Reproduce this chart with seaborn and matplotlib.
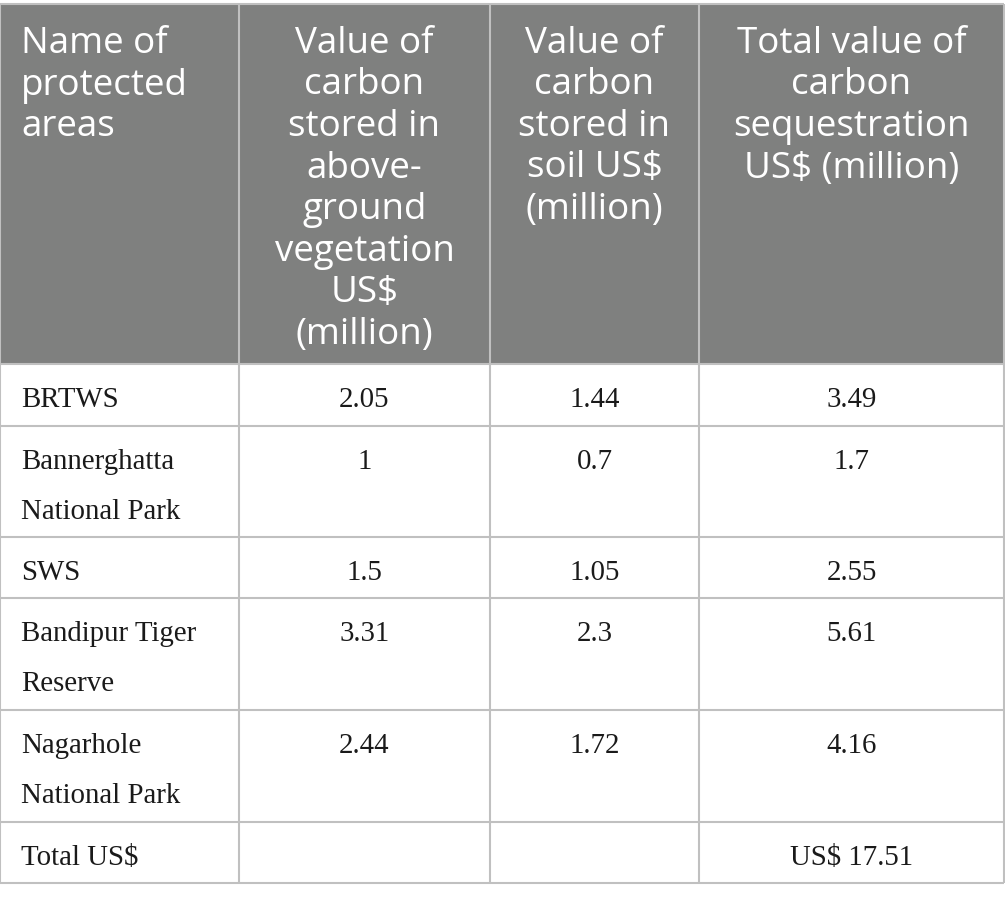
import matplotlib
matplotlib.use("Agg")
import matplotlib.pyplot as plt
import seaborn as sns

# table content
headers = [
    ["Name of", "protected", "areas"],
    ["Value of", "carbon", "stored in", "above-", "ground", "vegetation", "US$", "(million)"],
    ["Value of", "carbon", "stored in", "soil US$", "(million)"],
    ["Total value of", "carbon", "sequestration", "US$ (million)"],
]
areas = [
    ["BRTWS"],
    ["Bannerghatta", "National Park"],
    ["SWS"],
    ["Bandipur Tiger", "Reserve"],
    ["Nagarhole", "National Park"],
    ["Total US$"],
]
above_ground = [2.05, 1, 1.5, 3.31, 2.44, None]
soil = [1.44, 0.7, 1.05, 2.3, 1.72, None]
total = [3.49, 1.7, 2.55, 5.61, 4.16, 17.51]

# layout (pixels)
col_edges = [0, 239, 490, 699, 1004]
row_edges = [4, 364, 426, 537, 598, 710, 822, 883]

header_bg = "#7f807f"
grid_col = "#c0c0c0"

sns.set_theme(style="white")

fig = plt.figure(figsize=(10.05, 8.97), dpi=100)
ax = fig.add_axes([0, 0, 1, 1])
ax.set_xlim(0, 1005)
ax.set_ylim(897, 0)
ax.axis("off")

# header background
ax.fill_between([col_edges[0], col_edges[-1]], row_edges[0], row_edges[1],
                color=header_bg, lw=0)

# grid lines
for x in col_edges:
    ax.plot([x, x], [row_edges[0], row_edges[-1]], color=grid_col, lw=1.5,
            solid_capstyle="butt")
for y in row_edges:
    ax.plot([col_edges[0], col_edges[-1]], [y, y], color=grid_col, lw=1.5,
            solid_capstyle="butt")

head_font = dict(family="Open Sans", size=26.5, color="white")
body_font = dict(family="Liberation Serif", size=20.8, color="#1a1a1a")

# header text
for i, lines in enumerate(headers):
    for k, line in enumerate(lines):
        y = row_edges[0] + 49 + k * 41.5
        if i == 0:
            ax.text(col_edges[0] + 21, y, line, ha="left", va="baseline", **head_font)
        else:
            xc = (col_edges[i] + col_edges[i + 1]) / 2
            ax.text(xc, y, line, ha="center", va="baseline", **head_font)


def fmt(v):
    if v is None:
        return ""
    return f"{v:g}"


for r in range(len(areas)):
    top = row_edges[r + 1]
    base = top + 43
    for k, line in enumerate(areas[r]):
        ax.text(col_edges[0] + 21, base + k * 50, line, ha="left", va="baseline",
                **body_font)
    vals = [fmt(above_ground[r]), fmt(soil[r]), fmt(total[r])]
    if r == len(areas) - 1:
        vals[2] = "US$ " + vals[2]
    for c, txt in enumerate(vals):
        xc = (col_edges[c + 1] + col_edges[c + 2]) / 2
        ax.text(xc, base, txt, ha="center", va="baseline", **body_font)

fig.savefig("out.png", dpi=100, facecolor="white")
